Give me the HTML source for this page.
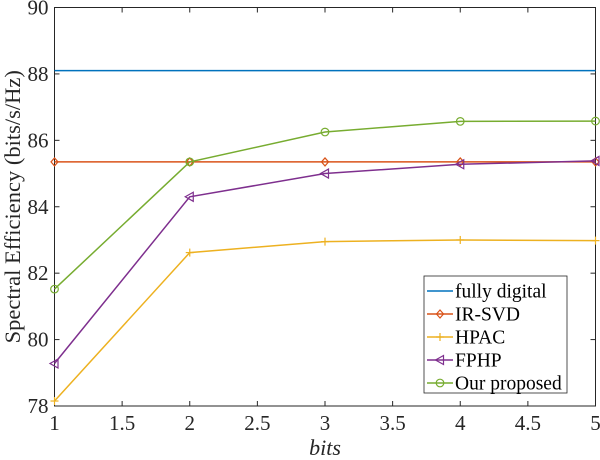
<!DOCTYPE html>
<html><head><meta charset="utf-8"><style>
body{margin:0;background:#fff}
svg{font-family:"Liberation Serif",serif;display:block}
</style></head><body>
<svg id="chart" width="600" height="460"></svg>
<script>
const xs=[1,2,3,4,5];
const fullyDigital=[88.1,88.1,88.1,88.1,88.1];
const irsvd=[85.35,85.35,85.35,85.35,85.35];
const hpac=[78.15,82.62,82.95,83.0,82.98];
const fphp=[79.28,84.3,85.0,85.28,85.38];
const proposed=[81.52,85.35,86.25,86.57,86.58];
const xTicks=[1,1.5,2,2.5,3,3.5,4,4.5,5];
const yTicks=[78,80,82,84,86,88,90];
const L=54.5,R=595.5,T=7.5,B=406;
const X=v=>L+(v-1)/4*(R-L);
const Y=v=>B-(v-78)/12*(B-T);
const svg=document.getElementById('chart');
const NS='http://www.w3.org/2000/svg';
function mk(tag,attrs,parent){const e=document.createElementNS(NS,tag);for(const k in attrs)e.setAttribute(k,attrs[k]);(parent||svg).appendChild(e);return e;}
const box=mk('rect',{x:L,y:T,width:R-L,height:B-T,fill:'#fff',stroke:'#262626','stroke-width':1});


xTicks.forEach(t=>{
  mk('line',{x1:X(t),x2:X(t),y1:B,y2:B-5,stroke:'#262626'});
  mk('line',{x1:X(t),x2:X(t),y1:T,y2:T+5,stroke:'#262626'});
  const tx=mk('text',{x:X(t),y:B+24,'text-anchor':'middle','font-size':21,fill:'#262626'});
  tx.textContent=t;
  
  
});
yTicks.forEach(t=>{
  mk('line',{x1:L,x2:L+5,y1:Y(t),y2:Y(t),stroke:'#262626'});
  mk('line',{x1:R,x2:R-5,y1:Y(t),y2:Y(t),stroke:'#262626'});
  const tx=mk('text',{x:L-6,y:Y(t)+7,'text-anchor':'end','font-size':21,fill:'#262626'});
  tx.textContent=t;
  
  
});
const xl=mk('text',{x:(L+R)/2,y:455,'text-anchor':'middle','font-size':22,'font-style':'italic',fill:'#262626'});
xl.textContent='bits';


const yl=mk('text',{x:0,y:0,'text-anchor':'middle','font-size':22.5,fill:'#262626',transform:`translate(20,${(T+B)/2}) rotate(-90)`});
yl.textContent='Spectral Efficiency (bits/s/Hz)';


function marker(type,cx,cy,c,g){
  if(type==='diamond')mk('polygon',{points:`${cx},${cy-4} ${cx+3.5},${cy} ${cx},${cy+4} ${cx-3.5},${cy}`,fill:'none',stroke:c,'stroke-width':1.2},g);
  if(type==='plus'){mk('line',{x1:cx-4,x2:cx+4,y1:cy,y2:cy,stroke:c,'stroke-width':1.2},g);mk('line',{x1:cx,x2:cx,y1:cy-4,y2:cy+4,stroke:c,'stroke-width':1.2},g);}
  if(type==='tri')mk('polygon',{points:`${cx-4.5},${cy} ${cx+3.5},${cy-4.5} ${cx+3.5},${cy+4.5}`,fill:'none',stroke:c,'stroke-width':1.2},g);
  if(type==='circle')mk('circle',{cx:cx,cy:cy,r:3.8,fill:'none',stroke:c,'stroke-width':1.2},g);
}
const series=[
 {name:'fully digital',d:fullyDigital,c:'#0072bd',m:null,id:'series-fully-digital'},
 {name:'IR-SVD',d:irsvd,c:'#d95319',m:'diamond',id:'series-ir-svd'},
 {name:'HPAC',d:hpac,c:'#edb120',m:'plus',id:'series-hpac'},
 {name:'FPHP',d:fphp,c:'#7e2f8e',m:'tri',id:'series-fphp'},
 {name:'Our proposed',d:proposed,c:'#77ac30',m:'circle',id:'series-our-proposed'}
];
series.forEach(s=>{
  const g=mk('g',{});
  
  
  mk('polyline',{points:xs.map((x,i)=>X(x)+','+Y(s.d[i])).join(' '),fill:'none',stroke:s.c,'stroke-width':1.5},g);
  if(s.m)xs.forEach((x,i)=>marker(s.m,X(x),Y(s.d[i]),s.c,g));
});
const lg=mk('g',{});


mk('rect',{x:424,y:276,width:143,height:117,fill:'#fff',stroke:'#262626','stroke-width':0.8},lg);
series.forEach((s,i)=>{
  const y=291+i*23;
  const e=mk('g',{},lg);
  
  
  mk('line',{x1:427,x2:453,y1:y,y2:y,stroke:s.c,'stroke-width':1.5},e);
  if(s.m)marker(s.m,440,y,s.c,e);
  const t=mk('text',{x:455,y:y+6.5,'font-size':19.5,fill:'#000'},e);
  t.textContent=s.name;
});
</script>
</body></html>
